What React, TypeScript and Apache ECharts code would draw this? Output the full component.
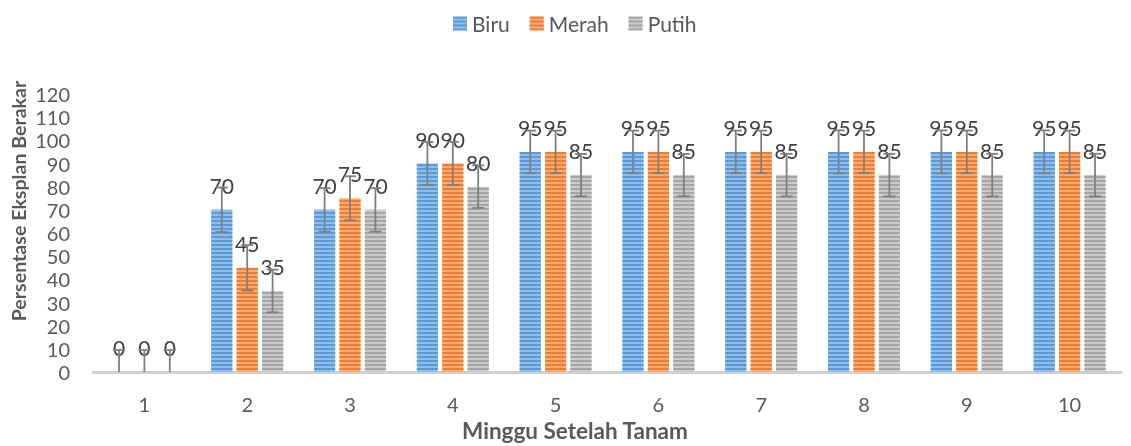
import React, { useEffect, useRef } from "react";
import * as echarts from "echarts";

const weeks = ["1", "2", "3", "4", "5", "6", "7", "8", "9", "10"];
const seriesNames = ["Biru", "Merah", "Putih"];
const biru = [0, 70, 70, 90, 95, 95, 95, 95, 95, 95];
const merah = [0, 45, 75, 90, 95, 95, 95, 95, 95, 95];
const putih = [0, 35, 70, 80, 85, 85, 85, 85, 85, 85];
const biruErr = [9.5, 9.6, 9.4, 9.3, 9.2, 9.2, 9.2, 9.3, 9.3, 9.3];
const merahErr = [9.5, 9.8, 9.5, 9.3, 9.2, 9.2, 9.2, 9.2, 9.2, 9.2];
const putihErr = [9.5, 9.2, 9.4, 9.2, 9.1, 9.1, 9.2, 9.2, 9.2, 9.2];
const yMin = 0;
const yMax = 120;
const yStep = 10;

const baseColors = ["#93BDE6", "#F4AD7A", "#CBCBCB"];
const stripeColors = ["#5B9BD5", "#ED7D31", "#A5A5A5"];
const FONT = "Lato, 'Open Sans', sans-serif";

const BAR_CAT_GAP = 0.3;
const BAR_GAP = 0.2;

export default function App() {
  const ref = useRef<HTMLDivElement>(null);
  useEffect(() => {
    if (!ref.current) return;
    const chart = echarts.init(ref.current, null, { renderer: "svg" });
    const values = [biru, merah, putih];
    const errs = [biruErr, merahErr, putihErr];

    const barSeries = values.map((vals, k) => ({
      type: "bar",
      name: seriesNames[k],
      data: vals,
      z: 2,
      barCategoryGap: "30%",
      barGap: "20%",
      itemStyle: {
        color: baseColors[k],
        decal: {
          symbol: "rect",
          symbolSize: 1,
          dashArrayX: [1, 0],
          dashArrayY: [1.5, 1.5],
          rotation: 0,
          color: stripeColors[k],
        },
      },
      label: {
        show: true,
        position: "top",
        distance: 14,
        fontFamily: FONT,
        fontSize: 21,
        color: "#404040",
      },
    }));

    const errSeries = values.map((vals, k) => ({
      type: "custom",
      name: seriesNames[k] + "-err",
      z: 5,
      silent: true,
      encode: { x: 0, y: 1 },
      data: vals.map((v, i) => [i, v, errs[k][i]]),
      renderItem: (params: any, api: any) => {
        const i = api.value(0);
        const v = api.value(1);
        const e = api.value(2);
        const band = api.size([1, 0])[0];
        const w = (band * (1 - BAR_CAT_GAP)) / (3 + 2 * BAR_GAP);
        const off = (k - 1) * (1 + BAR_GAP) * w;
        const lowV = v - e;
        const top = api.coord([i, v + e]);
        const bot = api.coord([i, Math.max(0, lowV)]);
        const x = top[0] + off;
        const cap = 6;
        const st = { stroke: "#7F7F7F", lineWidth: 1.8 };
        const children: any[] = [
          { type: "line", shape: { x1: x, y1: top[1], x2: x, y2: bot[1] }, style: st },
          { type: "line", shape: { x1: x - cap, y1: top[1], x2: x + cap, y2: top[1] }, style: st },
        ];
        if (lowV > 0) {
          children.push({
            type: "line",
            shape: { x1: x - cap, y1: bot[1], x2: x + cap, y2: bot[1] },
            style: st,
          });
        }
        return { type: "group", children };
      },
    }));

    chart.setOption({
      animation: false,
      textStyle: { fontFamily: FONT },
      legend: {
        data: seriesNames,
        left: 448,
        top: 8,
        itemWidth: 14,
        itemHeight: 14,
        itemGap: 20,
        icon: "rect",
        textStyle: { fontFamily: FONT, fontSize: 21, color: "#595959" },
      },
      grid: { left: 93, right: 10, top: 94, bottom: 74, containLabel: false },
      xAxis: {
        type: "category",
        data: weeks,
        axisLine: { lineStyle: { color: "#D0D0D0", width: 3 } },
        axisTick: { show: false },
        axisLabel: { fontFamily: FONT, fontSize: 20, color: "#595959", margin: 22 },
      },
      yAxis: {
        type: "value",
        min: yMin,
        max: yMax,
        interval: yStep,
        splitLine: { show: false },
        axisLine: { show: false },
        axisTick: { show: false },
        axisLabel: { fontFamily: FONT, fontSize: 20, color: "#595959", margin: 23 },
      },
      graphic: [
        {
          type: "text",
          x: 18,
          y: 201,
          rotation: Math.PI / 2,
          style: {
            text: "Persentase Eksplan Berakar",
            fontFamily: FONT,
            fontSize: 19.6,
            fontWeight: "bold",
            fill: "#595959",
            align: "center",
            verticalAlign: "middle",
          },
        },
        {
          type: "text",
          x: 575,
          y: 430,
          style: {
            text: "Minggu Setelah Tanam",
            fontFamily: FONT,
            fontSize: 22.5,
            fontWeight: "bold",
            fill: "#595959",
            align: "center",
            verticalAlign: "middle",
          },
        },
      ],
      series: [...barSeries, ...errSeries],
    } as any);
    return () => chart.dispose();
  }, []);
  return (
    <div
      ref={ref}
      style={{ position: "fixed", left: 0, top: 0, width: 1131, height: 446 }}
    />
  );
}
